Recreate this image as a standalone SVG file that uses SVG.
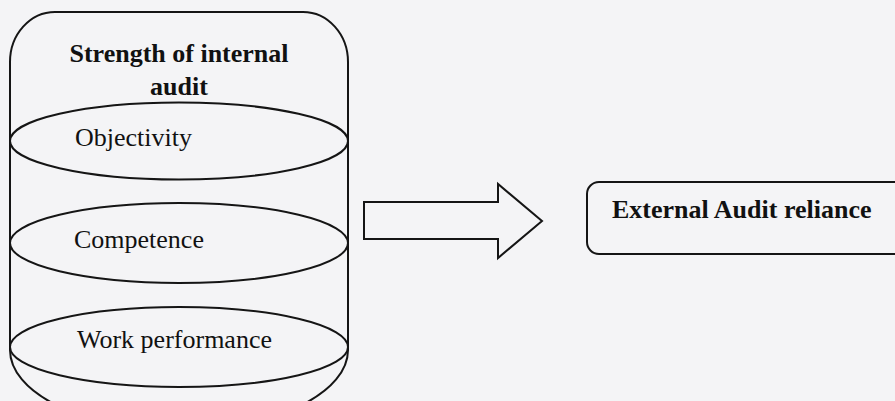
<svg xmlns="http://www.w3.org/2000/svg" width="895" height="401" viewBox="0 0 895 401">
<style>
.ln{fill:none;stroke:#151515;stroke-width:2}
.t{font-family:"Liberation Serif","Times New Roman",serif;font-size:26px;fill:#111}
.b{font-weight:bold}
</style>
<rect width="895" height="401" fill="#f4f4f6"/>
<g id="internal-audit">
<path class="ln" d="M10,350 L10,62 A45,50 0 0 1 55,12 L303,12 A45,50 0 0 1 348,62 L348,350 A169,80 0 0 1 10,350"/>
<text class="t b" x="179" y="62" text-anchor="middle">Strength of internal</text>
<text class="t b" x="179" y="95" text-anchor="middle">audit</text>
</g>
<g id="objectivity">
<ellipse class="ln" cx="179" cy="141" rx="169" ry="38.5"/>
<text class="t" x="75" y="146">Objectivity</text>
</g>
<g id="competence">
<ellipse class="ln" cx="179" cy="243" rx="169" ry="40"/>
<text class="t" x="74" y="248">Competence</text>
</g>
<g id="work-performance">
<ellipse class="ln" cx="179" cy="347" rx="169" ry="40"/>
<text class="t" x="77" y="348">Work performance</text>
</g>
<g id="connectors">
<path class="ln" d="M364,202 L498,202 L498,184 L542,221 L498,258 L498,239 L364,239 Z" fill="#f4f4f6"/>
</g>
<g id="external-audit">
<rect class="ln" x="587" y="182" width="320" height="72" rx="12"/>
<text class="t b" x="612" y="218">External Audit reliance</text>
</g>
</svg>
